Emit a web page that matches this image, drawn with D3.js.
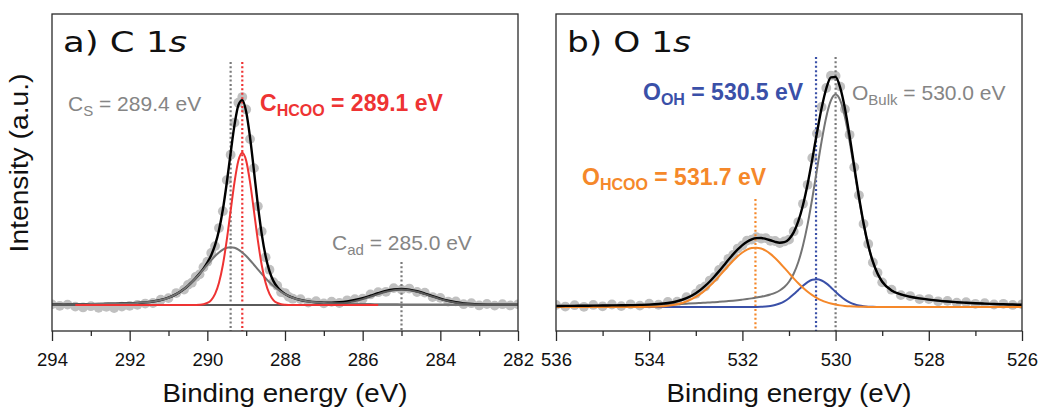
<!DOCTYPE html>
<html><head><meta charset="utf-8">
<script src="https://cdn.jsdelivr.net/npm/d3@7"></script>
<style>body{margin:0;background:#fff}svg{display:block}</style>
</head><body>
<svg id="chart" width="1038" height="411"></svg>
<script>
// ---------------- Panel a) C 1s ----------------
const energyA = [294.0,293.8,293.6,293.4,293.2,293.0,292.8,292.6,292.4,292.2,292.0,291.8,291.6,291.4,291.2,291.0,290.8,290.6,
290.5,290.4,290.3,290.2,290.1,290.0,289.9,289.8,289.7,289.6,289.5,289.4,289.3,289.2,289.1,289.0,288.9,288.8,288.7,288.6,288.5,288.4,288.3,288.2,288.1,288.0,287.9,
287.8,287.6,287.4,287.2,287.0,286.8,286.6,286.4,286.2,286.0,285.8,285.6,285.4,285.2,285.0,284.8,284.6,284.4,284.2,284.0,283.8,283.6,283.4,283.2,283.0,282.8,282.6,282.4,282.2,282.0];
const dataA = [0.3,-0.4,0.2,-0.8,-1.2,-0.6,-1.4,-0.9,-1.5,-0.8,-0.4,0.1,0.7,1.0,2.6,3.4,5.9,7.6,
9.9,11.0,13.8,15.1,18.6,21.3,25.6,29.0,37.9,46.2,61.5,74.0,89.8,99.6,102.4,96.3,81.7,67.4,48.6,36.2,23.5,17.4,11.2,9.5,6.3,5.9,4.0,
3.1,2.9,1.2,1.9,0.8,1.6,1.0,2.3,2.9,3.1,5.2,6.3,6.5,8.3,7.6,8.1,6.4,6.1,3.9,3.5,1.7,1.8,0.4,0.9,-0.2,0.5,-0.3,0.4,-0.2,0.3];
const fitA = [0.28,0.31,0.34,0.37,0.41,0.45,0.50,0.56,0.64,0.73,0.85,1.03,1.30,1.74,2.45,3.59,5.35,7.87,
9.44,11.23,13.23,15.45,17.92,20.82,24.50,29.57,36.85,47.00,60.09,74.85,88.69,98.40,100.90,95.21,82.55,66.18,49.46,35.03,24.15,16.69,11.89,8.86,6.86,5.47,4.41,
3.59,2.46,1.77,1.37,1.19,1.19,1.38,1.80,2.47,3.41,4.56,5.79,6.89,7.65,7.91,7.59,6.78,5.62,4.33,3.12,2.10,1.34,0.82,0.50,0.31,0.21,0.16,0.13,0.12,0.11];
const compCsA = [0.28,0.31,0.34,0.37,0.41,0.45,0.50,0.56,0.64,0.73,0.85,1.03,1.30,1.74,2.45,3.59,5.35,7.87,
9.44,11.23,13.20,15.33,17.56,19.83,22.05,24.11,25.90,27.30,28.19,28.50,28.19,27.30,25.90,24.11,22.05,19.83,17.56,15.33,13.20,11.23,9.44,7.87,6.50,5.35,4.38,
3.59,2.45,1.74,1.30,1.03,0.85,0.73,0.64,0.56,0.50,0.45,0.41,0.37,0.34,0.31,0.28,0.26,0.24,0.22,0.21,0.19,0.18,0.17,0.16,0.15,0.14,0.13,0.12,0.12,0.11];
const compHcooA = [null,null,null,0,0,0,0,0,0,0,0,0,0,0,0,0,0,0,
0,0,0.03,0.12,0.36,0.99,2.45,5.46,10.95,19.7,31.9,46.35,60.5,71.1,75.0,71.1,60.5,46.35,31.9,19.7,10.95,5.46,2.45,0.99,0.36,0.12,0.03,
0,0,0,0,0,0,0,0,0,0,0,0,null,null,null,null,null,null,null,null,null,null,null,null,null,null,null,null,null,null];
const compCadA = [0,0,0,0,0,0,0,0,0,0,0,0,0,0,0,0,0,0,
0,0,0,0,0,0,0,0,0,0,0,0,0,0,0,0,0,0,0,0,0,0,0,0,0,0,0,
0,0.01,0.03,0.07,0.16,0.34,0.65,1.16,1.91,2.91,4.11,5.38,6.52,7.31,7.6,7.31,6.52,5.38,4.11,2.91,1.91,1.16,0.65,0.34,0.16,0.07,0.03,0.01,0,0];
const majorTicksA = [294,292,290,288,286,284,282];
const minorTicksA = [293,291,289,287,285,283];
const markerEnergyA = [289.4, 289.1, 285.0];
const markerTopA = [119.7, 119.7, 21.2];

// ---------------- Panel b) O 1s ----------------
const energyB = [536.0,535.8,535.6,535.4,535.2,535.0,534.8,534.6,534.4,534.2,534.0,533.8,533.6,533.4,533.2,533.0,
532.9,532.8,532.7,532.6,532.5,532.4,532.3,532.2,532.1,532.0,531.9,531.8,531.7,531.6,531.5,531.4,531.3,531.2,531.1,531.0,
530.9,530.8,530.7,530.6,530.5,530.4,530.3,530.2,530.1,530.0,529.9,529.8,529.7,529.6,529.5,529.4,529.3,529.2,529.1,529.0,
528.8,528.6,528.4,528.2,528.0,527.8,527.6,527.4,527.2,527.0,526.8,526.6,526.4,526.2,526.0];
const dataB = [0.9,0.2,0.8,0.1,0.9,0.3,1.1,0.4,1.2,0.6,1.5,1.0,2.2,2.3,4.3,5.8,
7.9,9.0,11.6,13.1,16.2,18.0,21.1,22.8,25.6,27.0,29.1,29.5,30.6,30.0,30.2,29.0,28.9,28.0,28.7,29.5,
33.1,37.2,45.2,53.5,65.3,76.0,87.6,95.9,101.3,101.2,96.5,86.6,75.4,61.2,48.9,36.4,27.6,19.5,15.0,10.8,
7.6,5.2,4.8,3.5,3.5,2.5,2.7,1.9,2.1,1.4,1.7,1.1,1.4,0.9,1.2];
const fitB = [0.45,0.48,0.52,0.56,0.60,0.64,0.70,0.75,0.82,0.93,1.07,1.32,1.76,2.54,3.89,6.06,
7.50,9.22,11.18,13.36,15.71,18.18,20.66,23.05,25.24,27.12,28.60,29.63,30.15,30.19,29.83,29.23,28.55,28.16,28.39,29.76,
32.67,37.56,44.67,53.89,64.76,76.29,87.13,95.69,100.55,100.73,95.99,86.97,74.97,61.59,48.42,36.72,27.14,19.83,14.63,11.08,
7.24,5.50,4.49,3.79,3.24,2.79,2.42,2.12,1.87,1.65,1.47,1.32,1.19,1.08,0.98];
const compBulkB = [0.45,0.48,0.52,0.56,0.60,0.64,0.70,0.75,0.82,0.90,0.98,1.08,1.19,1.32,1.47,1.65,
1.75,1.87,1.99,2.12,2.26,2.42,2.60,2.79,3.00,3.24,3.50,3.79,4.12,4.49,4.94,5.50,6.21,7.24,8.74,11.07,
14.58,19.73,26.92,36.29,47.63,60.17,72.59,83.22,90.44,93.00,90.44,83.22,72.59,60.17,47.63,36.29,26.92,19.73,14.58,11.07,
7.24,5.50,4.49,3.79,3.24,2.79,2.42,2.12,1.87,1.65,1.47,1.32,1.19,1.08,0.98];
const compOhB = [0,0,0,0,0,0,0,0,0,0,0,0,0,0,0,0,
0,0,0,0,0,0,0,0,0,0,0,0.01,0.04,0.10,0.22,0.46,0.86,1.52,2.51,3.86,
5.54,7.44,9.33,10.92,11.94,12.18,11.61,10.34,8.59,6.67,4.83,3.27,2.07,1.22,0.67,0.35,0.17,0.07,0.03,0.01,
0,0,0,0,0,0,0,0,0,0,0,0,0,0,0];
const compHcooB = [0,0,0,0,0,0,0,0,0,0.03,0.09,0.24,0.57,1.22,2.42,4.41,
5.75,7.35,9.19,11.24,13.45,15.76,18.06,20.26,22.24,23.88,25.10,25.82,25.99,25.60,24.67,23.27,21.48,19.40,17.14,14.83,
12.55,10.39,8.42,6.68,5.19,3.94,2.93,2.13,1.52,1.06,0.72,0.48,0.31,0.20,0.12,0.08,0.05,0.03,0.02,0.01,
0,0,0,0,0,0,0,0,0,0,0,0,0,0,0];
const majorTicksB = [536,534,532,530,528,526];
const minorTicksB = [535,533,531,529,527];
const markerEnergyB = [531.72, 530.42, 530.0];
const markerTopB = [47.3, 109.5, 109.5];

// ---------------- drawing ----------------
const svg = d3.select('#chart');
const SANS = "'Liberation Sans', Arial, Helvetica, sans-serif";
const TOP = 14, BOTTOM = 331;

function stretchText(g, tx, ty, rot, target, build) {
  const grp = g.append('g');
  const t = grp.append('text').attr('x', 0).attr('y', 0);
  build(t);
  const w = t.node().getComputedTextLength();
  const k = target / w;
  grp.attr('transform', `translate(${tx},${ty})` + (rot ? ` rotate(${rot})` : '') + ` scale(${k},1)`);
  return t;
}

function subLabel(g, x, y, main, sub, rest, color, bold) {
  const size = bold ? 23 : 21, subSize = bold ? 16 : 15;
  const t = g.append('text').attr('x', x).attr('y', y).attr('fill', color)
    .attr('font-family', SANS).attr('font-weight', bold ? 700 : 400).attr('font-size', size);
  t.append('tspan').text(main);
  t.append('tspan').attr('font-size', subSize).attr('dy', 5).text(sub);
  t.append('tspan').attr('dy', -5).text(rest);
}

function drawPanel(o) {
  const g = svg.append('g');
  const x = d3.scaleLinear().domain([d3.max(o.major), d3.min(o.major)]).range([o.left, o.right]);
  const y = d3.scaleLinear().domain(o.yDomain).range([BOTTOM, TOP]);
  const clipId = 'clip' + o.id;
  svg.append('defs').append('clipPath').attr('id', clipId)
    .append('rect').attr('x', o.left).attr('y', TOP).attr('width', o.right - o.left).attr('height', BOTTOM - TOP);
  const plot = g.append('g').attr('clip-path', `url(#${clipId})`);

  // measured data points
  plot.append('g').selectAll('circle').data(o.energy).join('circle')
    .attr('cx', d => x(d)).attr('cy', (d, i) => y(o.data[i])).attr('r', 4.9)
    .attr('fill', '#c0c0c0');

  if (o.baseline) {
    plot.append('line').attr('x1', x(x.domain()[0])).attr('x2', x(x.domain()[1]))
      .attr('y1', y(0)).attr('y2', y(0)).attr('stroke', '#808080').attr('stroke-width', 2);
  }

  // dotted position markers
  plot.append('g').selectAll('line').data(o.markers).join('line')
    .attr('x1', (d) => x(d.e)).attr('x2', d => x(d.e))
    .attr('y1', d => y(d.top)).attr('y2', BOTTOM)
    .attr('stroke', d => d.color).attr('stroke-width', 2.2).attr('stroke-dasharray', '2,2.4');

  const line = vals => d3.line()
    .defined((d, i) => vals[i] !== null)
    .x(d => x(d)).y((d, i) => y(vals[i]))
    .curve(d3.curveMonotoneX)(o.energy);
  o.curves.forEach(c => {
    plot.append('path').attr('d', line(c.values)).attr('fill', 'none')
      .attr('stroke', c.color).attr('stroke-width', c.width).attr('stroke-linejoin', 'round');
  });

  // frame
  g.append('rect').attr('x', o.left).attr('y', TOP).attr('width', o.right - o.left).attr('height', BOTTOM - TOP)
    .attr('fill', 'none').attr('stroke', '#2a2a2a').attr('stroke-width', 1.3);

  // axes
  const minor = g.append('g').attr('transform', `translate(0,${BOTTOM})`)
    .call(d3.axisBottom(x).tickValues(o.minor).tickSize(5).tickFormat(''));
  const major = g.append('g').attr('transform', `translate(0,${BOTTOM})`)
    .call(d3.axisBottom(x).tickValues(o.major).tickSize(10).tickPadding(12).tickFormat(d3.format('d')));
  [minor, major].forEach(a => {
    a.select('.domain').remove();
    a.selectAll('line').attr('stroke', '#2a2a2a').attr('stroke-width', 1.3);
    a.selectAll('text').attr('font-family', SANS).attr('font-size', 18.5).attr('fill', '#111');
  });

  // x axis title
  stretchText(g, (o.left + o.right) / 2, 402, 0, 245, t => {
    t.attr('text-anchor', 'middle').attr('font-family', SANS).attr('font-size', 26.5).attr('fill', '#111')
      .text('Binding energy (eV)');
  });

  // panel title
  stretchText(g, o.left + 11, 52, 0, 124, t => {
    t.attr('font-family', "'DejaVu Sans', sans-serif").attr('font-size', 28).attr('fill', '#111');
    t.append('tspan').text(o.title);
    t.append('tspan').attr('font-style', 'italic').text('s');
  });
  return g;
}

const gA = drawPanel({
  id: 'a', left: 52, right: 518, yDomain: [-12.8, 143.3],
  major: majorTicksA, minor: minorTicksA, energy: energyA, data: dataA, baseline: true,
  markers: markerEnergyA.map((e, i) => ({e, top: markerTopA[i], color: ['#7a7a7a', '#ee3333', '#7a7a7a'][i]})),
  curves: [
    {values: fitA, color: '#000000', width: 2.4},
    {values: compCsA, color: '#747474', width: 2},
    {values: compCadA, color: '#5a5a5a', width: 2},
    {values: compHcooA, color: '#ee3333', width: 2}
  ],
  title: 'a) C 1'
});
subLabel(gA, 68, 111, 'C', 'S', ' = 289.4 eV', '#858585', false);
subLabel(gA, 260, 111, 'C', 'HCOO', ' = 289.1 eV', '#ee3333', true);
subLabel(gA, 332, 250, 'C', 'ad', ' = 285.0 eV', '#858585', false);

const gB = drawPanel({
  id: 'b', left: 556, right: 1022, yDomain: [-10.5, 128.3],
  major: majorTicksB, minor: minorTicksB, energy: energyB, data: dataB, baseline: false,
  markers: markerEnergyB.map((e, i) => ({e, top: markerTopB[i], color: ['#f5882a', '#3a50a8', '#7a7a7a'][i]})),
  curves: [
    {values: compBulkB, color: '#747474', width: 2},
    {values: compOhB, color: '#3a50a8', width: 2},
    {values: compHcooB, color: '#f5882a', width: 2},
    {values: fitB, color: '#000000', width: 2.4}
  ],
  title: 'b) O 1'
});
subLabel(gB, 643, 100, 'O', 'OH', ' = 530.5 eV', '#3a50a8', true);
subLabel(gB, 852, 100, 'O', 'Bulk', ' = 530.0 eV', '#858585', false);
subLabel(gB, 582, 185, 'O', 'HCOO', ' = 531.7 eV', '#f5882a', true);

// y axis title
stretchText(svg, 28, 163, -90, 179, t => {
  t.attr('text-anchor', 'middle').attr('font-family', SANS).attr('font-size', 25).attr('fill', '#111')
    .text('Intensity (a.u.)');
});
</script>
</body></html>
